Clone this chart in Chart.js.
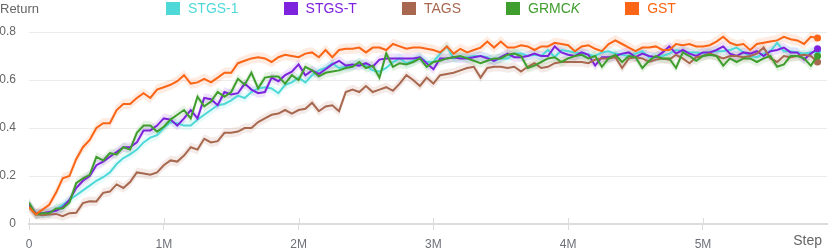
<!DOCTYPE html>
<html>
<head>
<meta charset="utf-8">
<script src="https://cdn.jsdelivr.net/npm/chart.js@4.4.1/dist/chart.umd.min.js"></script>
<style>
  html, body { margin:0; padding:0; background:#fff; }
  #wrap { position:relative; width:831px; height:249px; }
  #legend { position:absolute; left:166px; top:1px; display:flex; font:14px 'Liberation Sans', Arial, sans-serif; white-space:nowrap; }
  .item { display:flex; align-items:center; margin-right:45px; height:14px; }
  .box { width:14px; height:13px; margin-right:8px; }
</style>
</head>
<body>
<div id="wrap">
  <canvas id="chart" width="831" height="249" style="width:831px;height:249px"></canvas>
  <div id="legend"></div>
</div>
<script>
// ---- data ----
const STEP = 50000;            // logging interval (env steps)
const X_MAX = 5920000;
const X_TICKS = [0, 1000000, 2000000, 3000000, 4000000, 5000000];
const Y_TICKS = [0, 0.2, 0.4, 0.6, 0.8];

const names  = ['STGS-1', 'STGS-T', 'TAGS', 'GRMCK', 'GST'];
const colors = ['#4fd8d8', '#7d23dd', '#a8684f', '#3f9e2d', '#fb6515'];
const bandHalf = [0.02, 0.02, 0.02, 0.02, 0.022];   // shaded spread around each mean

const stgs1 = [
  0.08, 0.04, 0.045, 0.045, 0.06, 0.08, 0.10, 0.12, 0.14, 0.16,
  0.18, 0.195, 0.215, 0.25, 0.275, 0.29, 0.31, 0.34, 0.36, 0.37,
  0.40, 0.425, 0.42, 0.41, 0.41, 0.435, 0.455, 0.475, 0.495, 0.50,
  0.515, 0.535, 0.525, 0.55, 0.565, 0.57, 0.565, 0.545, 0.58, 0.59,
  0.61, 0.59, 0.62, 0.64, 0.65, 0.67, 0.65, 0.655, 0.66, 0.67,
  0.66, 0.64, 0.635, 0.65, 0.675, 0.69, 0.67, 0.68, 0.695, 0.675,
  0.675, 0.71, 0.74, 0.69, 0.695, 0.695, 0.70, 0.70, 0.695, 0.68,
  0.69, 0.69, 0.71, 0.71, 0.70, 0.705, 0.70, 0.725, 0.695, 0.725,
  0.72, 0.715, 0.71, 0.705, 0.70, 0.715, 0.72, 0.71, 0.705, 0.70,
  0.71, 0.72, 0.695, 0.695, 0.70, 0.71, 0.725, 0.72, 0.715, 0.715,
  0.71, 0.715, 0.72, 0.72, 0.725, 0.735, 0.715, 0.70, 0.695, 0.71,
  0.72, 0.755, 0.72, 0.72, 0.715, 0.71, 0.715, 0.72
];
const stgsT = [
  0.08, 0.045, 0.045, 0.05, 0.055, 0.07, 0.10, 0.15, 0.18, 0.20,
  0.245, 0.26, 0.28, 0.30, 0.32, 0.32, 0.34, 0.39, 0.39, 0.41,
  0.44, 0.435, 0.41, 0.44, 0.475, 0.44, 0.525, 0.52, 0.495, 0.55,
  0.54, 0.545, 0.585, 0.56, 0.545, 0.55, 0.61, 0.595, 0.62, 0.635,
  0.665, 0.62, 0.64, 0.625, 0.645, 0.665, 0.68, 0.66, 0.665, 0.66,
  0.67, 0.655, 0.685, 0.69, 0.69, 0.69, 0.69, 0.69, 0.695, 0.67,
  0.645, 0.69, 0.69, 0.695, 0.69, 0.69, 0.695, 0.70, 0.69, 0.68,
  0.695, 0.71, 0.695, 0.695, 0.70, 0.71, 0.70, 0.70, 0.74, 0.715,
  0.705, 0.70, 0.715, 0.705, 0.66, 0.695, 0.695, 0.70, 0.71, 0.715,
  0.695, 0.71, 0.70, 0.695, 0.715, 0.74, 0.71, 0.725, 0.71, 0.70,
  0.715, 0.715, 0.725, 0.74, 0.71, 0.70, 0.715, 0.71, 0.72, 0.70,
  0.72, 0.725, 0.735, 0.715, 0.715, 0.685, 0.71, 0.73
];
const tags = [
  0.07, 0.04, 0.037, 0.04, 0.042, 0.033, 0.045, 0.047, 0.087, 0.095,
  0.094, 0.13, 0.135, 0.165, 0.15, 0.175, 0.215, 0.21, 0.205, 0.215,
  0.245, 0.265, 0.26, 0.285, 0.32, 0.31, 0.355, 0.34, 0.345, 0.38,
  0.38, 0.385, 0.40, 0.40, 0.425, 0.44, 0.455, 0.46, 0.475, 0.46,
  0.475, 0.48, 0.505, 0.47, 0.49, 0.495, 0.47, 0.55, 0.56, 0.55,
  0.575, 0.55, 0.56, 0.57, 0.555, 0.585, 0.62, 0.60, 0.575, 0.61,
  0.585, 0.62, 0.625, 0.63, 0.64, 0.65, 0.655, 0.61, 0.65, 0.655,
  0.655, 0.65, 0.655, 0.635, 0.655, 0.67, 0.65, 0.655, 0.67, 0.675,
  0.675, 0.675, 0.675, 0.67, 0.685, 0.69, 0.69, 0.695, 0.65, 0.69,
  0.695, 0.69, 0.675, 0.685, 0.69, 0.685, 0.705, 0.69, 0.67, 0.695,
  0.70, 0.71, 0.70, 0.69, 0.70, 0.70, 0.695, 0.70, 0.71, 0.735,
  0.69, 0.675, 0.70, 0.695, 0.70, 0.705, 0.70, 0.675
];
const grmck = [
  0.09, 0.04, 0.045, 0.045, 0.065, 0.065, 0.09, 0.17, 0.19, 0.205,
  0.28, 0.265, 0.295, 0.29, 0.32, 0.31, 0.38, 0.41, 0.41, 0.385,
  0.405, 0.435, 0.455, 0.475, 0.44, 0.53, 0.49, 0.51, 0.55, 0.53,
  0.55, 0.605, 0.58, 0.63, 0.565, 0.61, 0.615, 0.615, 0.585, 0.62,
  0.60, 0.655, 0.64, 0.615, 0.63, 0.635, 0.64, 0.65, 0.655, 0.675,
  0.65, 0.66, 0.61, 0.71, 0.655, 0.67, 0.665, 0.675, 0.69, 0.655,
  0.675, 0.68, 0.69, 0.695, 0.70, 0.69, 0.68, 0.67, 0.68, 0.69,
  0.69, 0.705, 0.71, 0.70, 0.65, 0.66, 0.675, 0.69, 0.695, 0.675,
  0.69, 0.70, 0.705, 0.69, 0.70, 0.655, 0.69, 0.705, 0.675, 0.70,
  0.695, 0.65, 0.68, 0.70, 0.69, 0.69, 0.65, 0.715, 0.70, 0.68,
  0.70, 0.705, 0.70, 0.66, 0.69, 0.675, 0.69, 0.69, 0.675, 0.69,
  0.70, 0.655, 0.665, 0.70, 0.70, 0.69, 0.66, 0.70
];
const gst = [
  0.07, 0.04, 0.06, 0.08, 0.13, 0.19, 0.20, 0.27, 0.32, 0.35,
  0.40, 0.42, 0.42, 0.475, 0.50, 0.50, 0.525, 0.545, 0.525, 0.56,
  0.57, 0.58, 0.595, 0.62, 0.585, 0.59, 0.605, 0.59, 0.61, 0.63,
  0.63, 0.67, 0.68, 0.69, 0.695, 0.69, 0.675, 0.695, 0.705, 0.70,
  0.695, 0.71, 0.715, 0.695, 0.725, 0.695, 0.725, 0.73, 0.73, 0.735,
  0.715, 0.735, 0.735, 0.725, 0.75, 0.74, 0.73, 0.735, 0.735, 0.73,
  0.725, 0.715, 0.74, 0.71, 0.73, 0.715, 0.725, 0.735, 0.76, 0.735,
  0.76, 0.735, 0.735, 0.745, 0.74, 0.725, 0.74, 0.74, 0.755, 0.75,
  0.745, 0.72, 0.74, 0.745, 0.73, 0.72, 0.75, 0.765, 0.75, 0.735,
  0.72, 0.735, 0.735, 0.74, 0.725, 0.725, 0.75, 0.745, 0.75, 0.74,
  0.74, 0.745, 0.76, 0.78, 0.755, 0.745, 0.75, 0.725, 0.75, 0.755,
  0.76, 0.765, 0.78, 0.77, 0.765, 0.75, 0.78, 0.775
];
const series = [stgs1, stgsT, tags, grmck, gst];
const drawOrder = [5, 4, 3, 2, 1];   // lower = drawn on top

const FONT = "'Liberation Sans', Arial, sans-serif";

function hexToRgba(hex, a) {
  const h = hex.replace('#', '');
  const r = parseInt(h.substring(0, 2), 16);
  const g = parseInt(h.substring(2, 4), 16);
  const b = parseInt(h.substring(4, 6), 16);
  return `rgba(${r},${g},${b},${a})`;
}

function toPoints(vals, off) {
  return vals.map(function (v, i) { return { x: i * STEP, y: v + off }; });
}

// bands first (upper, lower filled to upper), then mean lines
const datasets = [];
series.forEach(function (vals, k) {
  datasets.push({
    data: toPoints(vals, bandHalf[k]), borderWidth: 0, pointRadius: 0,
    fill: false, order: 20
  });
  datasets.push({
    data: toPoints(vals, -bandHalf[k]), borderWidth: 0, pointRadius: 0,
    fill: '-1', backgroundColor: hexToRgba(colors[k], 0.13), order: 20
  });
});
series.forEach(function (vals, k) {
  const last = vals.length - 1;
  datasets.push({
    label: names[k], data: toPoints(vals, 0),
    borderColor: colors[k], backgroundColor: colors[k], borderWidth: 2,
    tension: 0, fill: false, order: drawOrder[k],
    pointRadius: function (ctx) { return ctx.dataIndex === last ? 3.5 : 0; },
    pointBorderWidth: 0, pointBackgroundColor: colors[k]
  });
});

// legend (html so the italic K can stay real text)
const legend = document.getElementById('legend');
names.forEach(function (n, k) {
  const item = document.createElement('div');
  item.className = 'item';
  const label = n === 'GRMCK' ? 'GRMC<i>K</i>' : n;
  item.innerHTML = '<span class="box" style="background:' + colors[k] + '"></span>' +
    '<span style="color:' + colors[k] + '">' + label + '</span>';
  legend.appendChild(item);
});

const axisExtras = {
  id: 'axisExtras',
  beforeDatasetsDraw(chart) {
    const { ctx, chartArea, scales } = chart;
    ctx.save();
    ctx.strokeStyle = '#dcdcdc';
    ctx.lineWidth = 1;
    scales.x.ticks.forEach(function (t) {
      const px = Math.round(scales.x.getPixelForValue(t.value)) + 0.5;
      ctx.beginPath();
      ctx.moveTo(px, chartArea.bottom - 6);
      ctx.lineTo(px, chartArea.bottom);
      ctx.stroke();
    });
    ctx.restore();
  },
  afterDraw(chart) {
    const ctx = chart.ctx;
    ctx.save();
    ctx.fillStyle = '#666';
    ctx.textAlign = 'left';
    ctx.textBaseline = 'alphabetic';
    ctx.font = '13px ' + FONT;
    ctx.fillText('Return', 0, 13);
    ctx.textAlign = 'right';
    ctx.font = '14px ' + FONT;
    ctx.fillText('Step', 822, 245);
    ctx.restore();
  }
};

new Chart(document.getElementById('chart').getContext('2d'), {
  type: 'line',
  data: { datasets: datasets },
  options: {
    responsive: false,
    animation: false,
    events: [],
    layout: { padding: { top: 32, right: 3, left: 0, bottom: 0 } },
    plugins: { legend: { display: false }, tooltip: { enabled: false } },
    scales: {
      x: {
        type: 'linear', min: 0, max: X_MAX,
        afterBuildTicks: function (s) {
          s.ticks = X_TICKS.map(function (v) { return { value: v }; });
        },
        afterFit: function (s) { s.height = 25; },
        ticks: {
          color: '#6e7079', padding: 7, autoSkip: false, maxRotation: 0,
          font: { family: FONT, size: 12 },
          callback: function (v) { return v === 0 ? '0' : (v / 1000000) + 'M'; }
        },
        grid: { drawOnChartArea: false, drawTicks: true, tickLength: 6, color: '#dcdcdc' },
        border: { display: true, color: '#dcdcdc', width: 2 }
      },
      y: {
        min: 0, max: 0.8,
        afterBuildTicks: function (s) {
          s.ticks = Y_TICKS.map(function (v) { return { value: v }; });
        },
        afterFit: function (s) { s.width = 29; },
        ticks: {
          color: '#666', padding: 13,
          font: { family: FONT, size: 12 },
          callback: function (v) { return v === 0 ? '0' : v.toFixed(1); }
        },
        grid: { color: '#ececec', drawTicks: false },
        border: { display: false }
      }
    }
  },
  plugins: [axisExtras]
});
</script>
</body>
</html>
